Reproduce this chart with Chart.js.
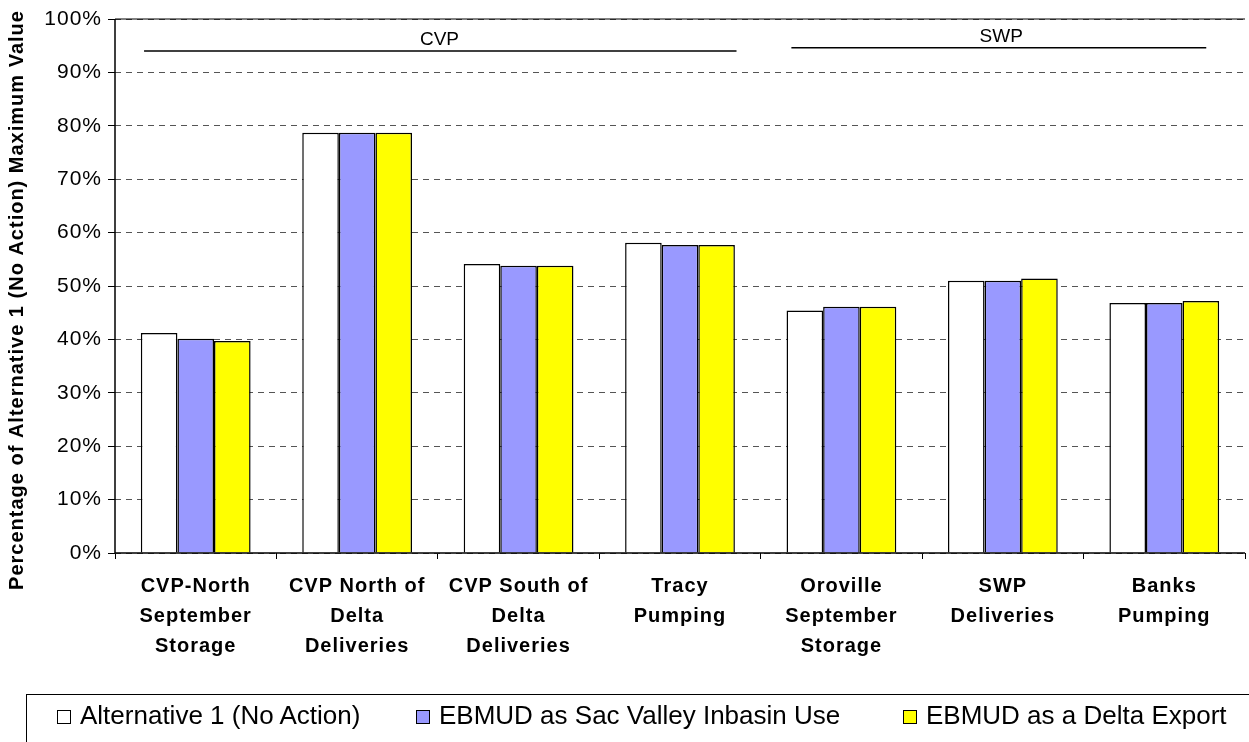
<!DOCTYPE html>
<html>
<head>
<meta charset="utf-8">
<script src="https://cdn.jsdelivr.net/npm/chart.js@4"></script>
<style>
  html, body { margin: 0; padding: 0; background: #fff; overflow: hidden; }
  #wrap { position: relative; width: 1249px; height: 742px; }
  #legend {
    position: absolute; left: 26px; top: 694px; width: 1240px; height: 60px;
    border: 1px solid #000; box-sizing: border-box;
    font-family: "Liberation Sans", Arial, sans-serif; font-size: 26px; color: #000;
  }
  .item { position: absolute; top: 5px; white-space: nowrap; }
  .sw { display: inline-block; width: 12px; height: 12px; border: 1.5px solid #000; margin-right: 9px; vertical-align: 0px; }
</style>
</head>
<body>
<div id="wrap">
  <canvas id="chart" width="1249" height="742"></canvas>
  <div id="legend"></div>
</div>
<script>
// Datos
const categories = [
  ['CVP-North', 'September', 'Storage'],
  ['CVP North of', 'Delta', 'Deliveries'],
  ['CVP South of', 'Delta', 'Deliveries'],
  ['Tracy', 'Pumping'],
  ['Oroville', 'September', 'Storage'],
  ['SWP', 'Deliveries'],
  ['Banks', 'Pumping']
];
const seriesNames = ['Alternative 1 (No Action)', 'EBMUD as Sac Valley Inbasin Use', 'EBMUD as a Delta Export'];
const alt1 = [41.2, 78.7, 54.1, 58.1, 45.4, 51.0, 46.8];
const inbasin = [40.1, 78.7, 53.8, 57.7, 46.1, 51.0, 46.8];
const deltaExport = [39.7, 78.7, 53.8, 57.7, 46.1, 51.4, 47.2];
const yTicks = [0, 10, 20, 30, 40, 50, 60, 70, 80, 90, 100];
const yTitle = 'Percentage of Alternative 1 (No Action) Maximum Value';
const colors = ['#FFFFFF', '#9999FF', '#FFFF00'];

// Grupos CVP / SWP (en unidades de categoría)
const groups = [
  { label: 'CVP', from: -0.32, to: 3.35, level: 94.0, textAt: 1.51 },
  { label: 'SWP', from: 3.69, to: 6.26, level: 94.6, textAt: 4.99 }
];

const FONT = '"Liberation Sans", Arial, sans-serif';

// Ejes sólidos, línea superior, título del eje y marcas de grupo
const groupPlugin = {
  id: 'groups',
  beforeDraw(chart) {
    chart.ctx.letterSpacing = '1px';
  },
  afterDatasetsDraw(chart) {
    const ctx = chart.ctx;
    const x = chart.scales.x, y = chart.scales.y;
    const a = chart.chartArea;
    ctx.save();
    ctx.setLineDash([]);
    ctx.strokeStyle = '#000';
    ctx.lineWidth = 1.5;
    ctx.beginPath();
    ctx.moveTo(a.left, a.top);
    ctx.lineTo(a.left, a.bottom);
    ctx.lineTo(a.right, a.bottom);
    ctx.stroke();
    ctx.lineWidth = 1;
    ctx.beginPath();
    ctx.moveTo(a.left, a.top);
    ctx.lineTo(a.right, a.top);
    ctx.stroke();

    // título del eje Y
    ctx.save();
    ctx.fillStyle = '#000';
    ctx.font = 'bold 20px ' + FONT;
    ctx.textAlign = 'center';
    ctx.textBaseline = 'middle';
    ctx.translate(17, 300);
    ctx.rotate(-Math.PI / 2);
    ctx.fillText(yTitle, 0, 0);
    ctx.restore();

    ctx.lineWidth = 1.5;
    ctx.fillStyle = '#000';
    ctx.letterSpacing = '0px';
    ctx.font = '19px ' + FONT;
    ctx.textAlign = 'center';
    ctx.textBaseline = 'bottom';
    groups.forEach(g => {
      const py = y.getPixelForValue(g.level);
      ctx.beginPath();
      ctx.moveTo(x.getPixelForValue(g.from), py);
      ctx.lineTo(x.getPixelForValue(g.to), py);
      ctx.stroke();
      ctx.fillText(g.label, x.getPixelForValue(g.textAt), py - 2);
    });
    ctx.restore();
  }
};

const data = [alt1, inbasin, deltaExport];

new Chart(document.getElementById('chart'), {
  type: 'bar',
  data: {
    labels: categories,
    datasets: seriesNames.map((name, i) => ({
      label: name,
      data: data[i],
      backgroundColor: colors[i],
      borderColor: '#000',
      borderWidth: 1.5,
      categoryPercentage: 0.68,
      barPercentage: 1
    }))
  },
  options: {
    responsive: false,
    animation: false,
    layout: { padding: { top: 19, right: 4, left: 0, bottom: 0 } },
    plugins: { legend: { display: false }, tooltip: { enabled: false } },
    scales: {
      x: {
        grid: { display: true, drawOnChartArea: false, offset: true, tickLength: 6, color: '#000', tickColor: '#000' },
        border: { display: false },
        ticks: {
          color: '#000', padding: 12, maxRotation: 0, autoSkip: false,
          font: { family: FONT, size: 20, weight: 'bold', lineHeight: 1.5 }
        },
        afterFit(scale) { scale.height = 189; }
      },
      y: {
        min: 0, max: 100,
        afterBuildTicks(scale) { scale.ticks = yTicks.map(v => ({ value: v })); },
        grid: {
          color: '#555',
          lineWidth: 1,
          tickBorderDash: [],
          tickColor: '#000',
          tickLength: 7
        },
        border: { display: false, dash: [6, 5] },
        ticks: {
          color: '#000', padding: 6,
          font: { family: FONT, size: 21 },
          callback: v => v + '%'
        },
        title: { display: false },
        afterFit(scale) { scale.width = 115; }
      }
    }
  },
  plugins: [groupPlugin]
});

// Leyenda
const legendPos = [30, 389, 876];
const legend = document.getElementById('legend');
seriesNames.forEach((name, i) => {
  const it = document.createElement('div');
  it.className = 'item';
  it.style.left = legendPos[i] + 'px';
  it.innerHTML = `<span class="sw" style="background:${colors[i]}"></span>${name}`;
  legend.appendChild(it);
});
</script>
</body>
</html>
